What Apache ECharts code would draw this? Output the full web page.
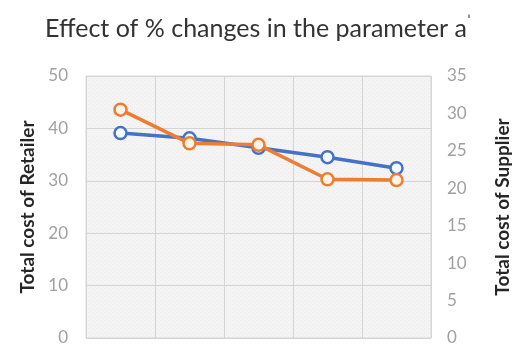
<!DOCTYPE html>
<html>
<head>
<meta charset="utf-8">
<script src="https://cdn.jsdelivr.net/npm/echarts@6/dist/echarts.min.js"></script>
<style>
  html, body { margin: 0; padding: 0; background: #ffffff; }
  #chart { width: 516px; height: 349px; }
</style>
</head>
<body>
<div id="chart"></div>
<script>
// Percentage-change steps of the parameter (axis labels hidden)
const steps = ['1', '2', '3', '4', '5'];
// Total cost of the retailer (left axis)
const retailerCost = [39.1, 38.1, 36.3, 34.5, 32.4];
// Total cost of the supplier (right axis)
const supplierCost = [30.5, 26.0, 25.8, 21.2, 21.1];
// Axis ranges
const leftTicks = { min: 0, max: 50, interval: 10 };
const rightTicks = { min: 0, max: 35, interval: 5 };

// Light checker texture for the plot area
function makePattern() {
  const c = document.createElement('canvas');
  c.width = 4; c.height = 4;
  const ctx = c.getContext('2d');
  ctx.fillStyle = '#f4f4f4';
  ctx.fillRect(0, 0, 4, 4);
  ctx.fillStyle = '#eaeaea';
  ctx.fillRect(0, 0, 1, 1);
  ctx.fillRect(2, 2, 1, 1);
  return c;
}

const chart = echarts.init(document.getElementById('chart'), null, { renderer: 'canvas' });
const font = 'Lato, "Open Sans", sans-serif';

chart.setOption({
  animation: false,
  title: {
    text: 'Effect of % changes in the parameter a{sup|ˈ}',
    left: 'center',
    top: 9,
    textStyle: {
      fontFamily: font,
      fontSize: 25,
      fontWeight: 'normal',
      color: '#333333',
      rich: {
        sup: { fontSize: 16, verticalAlign: 'top', color: '#333333', padding: [0, 0, 14, 0] }
      }
    }
  },
  grid: {
    left: 86, right: 85, top: 76, bottom: 11,
    outerBoundsMode: 'none',
    containLabel: false,
    show: true,
    backgroundColor: { image: makePattern(), repeat: 'repeat' },
    borderColor: '#d9d9d9',
    borderWidth: 1
  },
  xAxis: {
    type: 'category',
    data: steps,
    boundaryGap: true,
    axisLine: { show: false },
    axisTick: { show: false },
    axisLabel: { show: false },
    splitLine: { show: true, lineStyle: { color: '#d4d4d4', width: 1 } }
  },
  yAxis: [
    {
      type: 'value',
      min: leftTicks.min, max: leftTicks.max, interval: leftTicks.interval,
      name: 'Total cost of Retailer',
      nameLocation: 'middle',
      nameRotate: 90,
      nameGap: 49,
      nameTextStyle: { fontFamily: font, fontSize: 19, fontWeight: 'bold', color: '#262626' },
      axisLine: { show: false },
      axisTick: { show: false },
      axisLabel: { fontFamily: font, fontSize: 17, color: '#a0a0a0', margin: 18 },
      splitLine: { show: true, lineStyle: { color: '#d4d4d4', width: 1 } }
    },
    {
      type: 'value',
      position: 'right',
      min: rightTicks.min, max: rightTicks.max, interval: rightTicks.interval,
      name: 'Total cost of Supplier',
      nameLocation: 'middle',
      nameRotate: 90,
      nameGap: 62,
      nameTextStyle: { fontFamily: font, fontSize: 19, fontWeight: 'bold', color: '#262626' },
      axisLine: { show: false },
      axisTick: { show: false },
      axisLabel: { fontFamily: font, fontSize: 17, color: '#a0a0a0', margin: 16 },
      splitLine: { show: false }
    }
  ],
  series: [
    {
      name: 'Retailer',
      type: 'line',
      yAxisIndex: 0,
      data: retailerCost,
      symbol: 'circle',
      symbolSize: 12,
      lineStyle: { color: '#4472c4', width: 3.5 },
      itemStyle: { color: '#f4f8ff', borderColor: '#4472c4', borderWidth: 2.5 },
      z: 2
    },
    {
      name: 'Supplier',
      type: 'line',
      yAxisIndex: 1,
      data: supplierCost,
      symbol: 'circle',
      symbolSize: 12,
      lineStyle: { color: '#ed7d31', width: 3.5 },
      itemStyle: { color: '#fff3e8', borderColor: '#ed7d31', borderWidth: 2.5 },
      z: 3
    }
  ]
});
</script>
</body>
</html>
